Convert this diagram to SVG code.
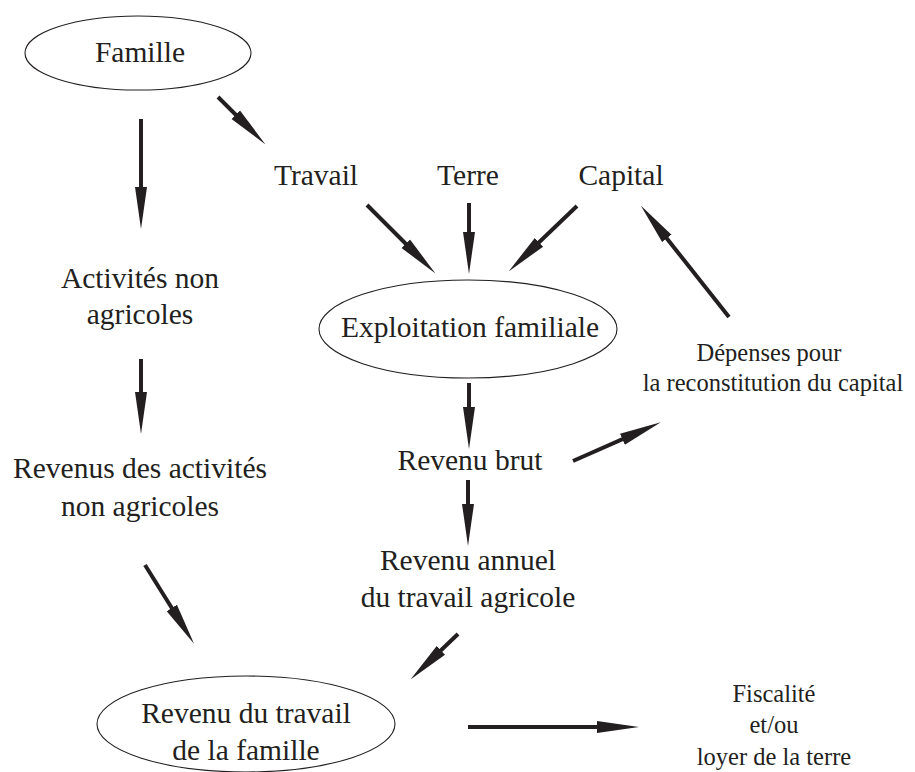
<svg xmlns="http://www.w3.org/2000/svg" width="915" height="772" viewBox="0 0 915 772">
<style>
text{font-family:"Liberation Serif","Times New Roman",serif;fill:#231f20;text-anchor:middle}
.m{font-size:29.5px}
.s{font-size:24.5px}
ellipse{fill:none;stroke:#231f20;stroke-width:1.1}
.c line{stroke:#231f20;stroke-width:4;marker-end:url(#ah)}
</style>
<defs>
<marker id="ah" markerUnits="userSpaceOnUse" markerWidth="42" markerHeight="14" refX="20" refY="7" orient="auto" viewBox="0 0 42 14">
<path d="M0,1 L42,7 L0,13 Z" fill="#231f20"/>
</marker>
</defs>
<rect width="915" height="772" fill="#fff"/>
<g id="famille"><ellipse cx="138" cy="53" rx="113" ry="37"/><text class="m" x="140" y="62">Famille</text></g>
<g id="travail"><text class="m" x="316" y="185">Travail</text></g>
<g id="terre"><text class="m" x="468" y="185">Terre</text></g>
<g id="capital"><text class="m" x="621" y="185">Capital</text></g>
<g id="exploitation"><ellipse cx="468" cy="329" rx="149" ry="49"/><text class="m" x="470" y="337">Exploitation familiale</text></g>
<g id="depenses"><text class="s" x="769" y="361">Dépenses pour</text><text class="s" x="773" y="391">la reconstitution du capital</text></g>
<g id="activites"><text class="m" x="140" y="288">Activités non</text><text class="m" x="140" y="324">agricoles</text></g>
<g id="revenus-activites"><text class="m" x="140" y="478">Revenus des activités</text><text class="m" x="140" y="516">non agricoles</text></g>
<g id="revenu-brut"><text class="m" x="470" y="470">Revenu brut</text></g>
<g id="revenu-annuel"><text class="m" x="468" y="570">Revenu annuel</text><text class="m" x="468" y="607">du travail agricole</text></g>
<g id="revenu-famille"><ellipse cx="246" cy="724" rx="149" ry="48"/><text class="m" x="246" y="723">Revenu du travail</text><text class="m" x="246" y="760">de la famille</text></g>
<g id="fiscalite"><text class="s" x="774" y="702">Fiscalité</text><text class="s" x="774" y="733">et/ou</text><text class="s" x="774" y="765">loyer de la terre</text></g>
<g id="connectors" class="c">
<line x1="141" y1="119" x2="141" y2="207"/>
<line x1="218" y1="97" x2="249.9" y2="128.9"/>
<line x1="367" y1="205" x2="419.9" y2="257.9"/>
<line x1="469" y1="203" x2="469" y2="252"/>
<line x1="577" y1="206" x2="524.5" y2="256.2"/>
<line x1="729" y1="317" x2="654.4" y2="222.7"/>
<line x1="469" y1="383" x2="469" y2="427"/>
<line x1="573" y1="461" x2="640.7" y2="431.1"/>
<line x1="468" y1="480" x2="468" y2="524"/>
<line x1="141" y1="359" x2="141" y2="412"/>
<line x1="145" y1="565" x2="182.4" y2="625"/>
<line x1="458" y1="634" x2="426.4" y2="664.2"/>
<line x1="468" y1="727" x2="617" y2="727"/>
</g>
</svg>
